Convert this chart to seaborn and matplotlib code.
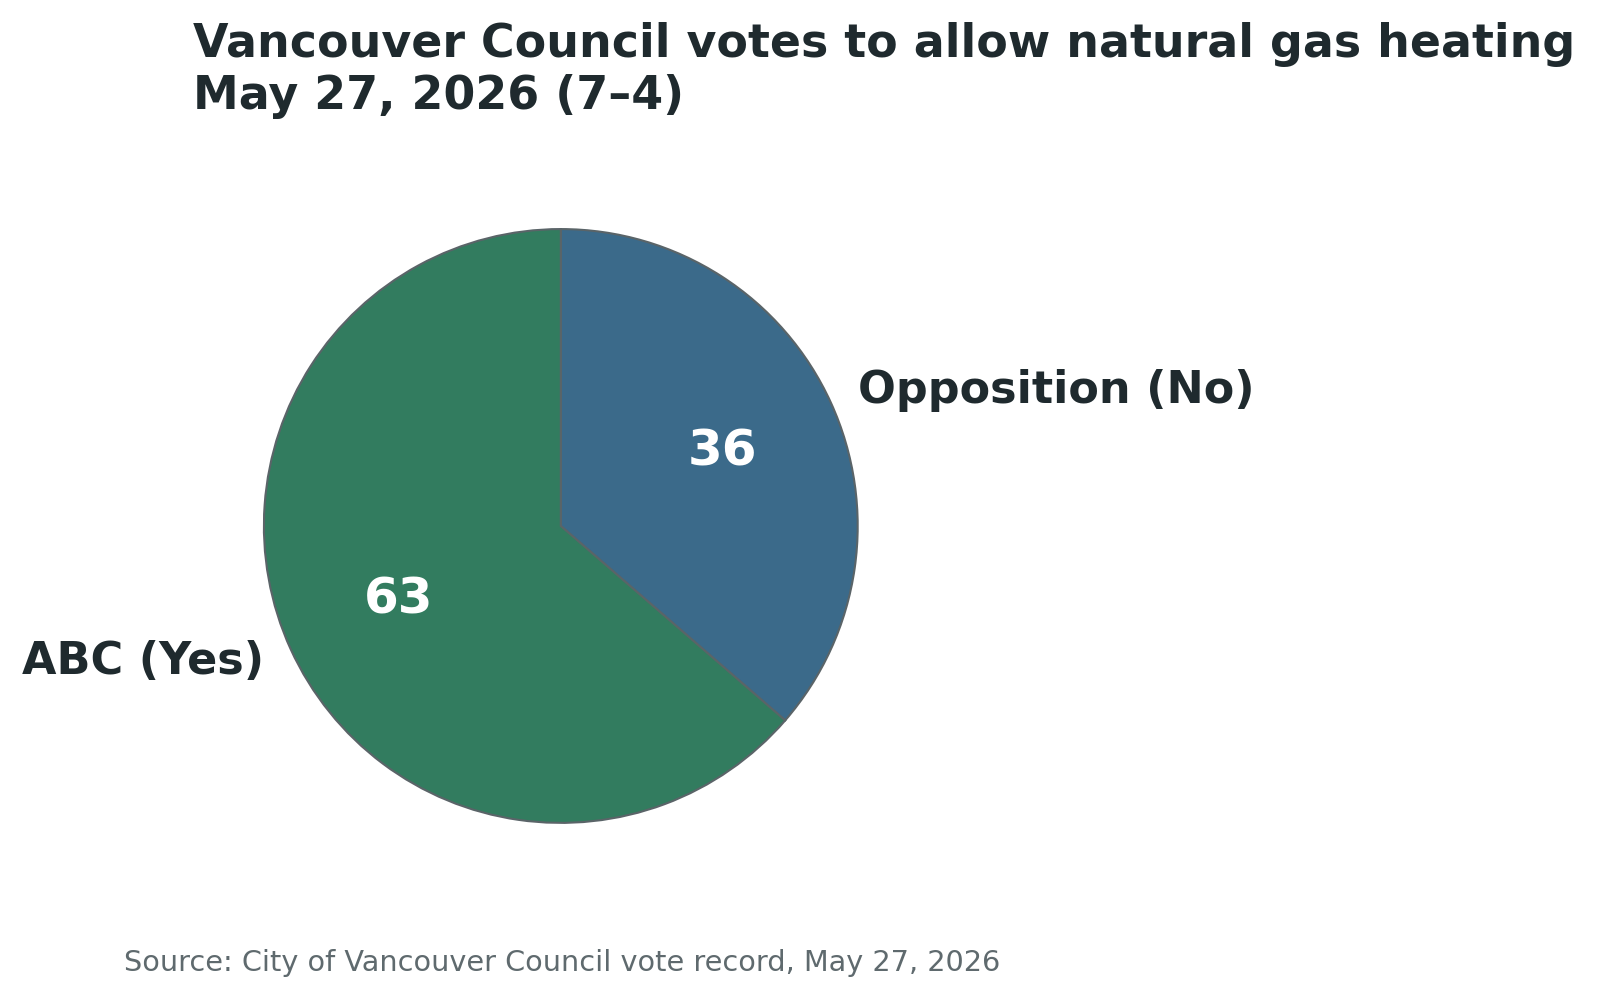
import matplotlib
matplotlib.use("Agg")
import matplotlib.pyplot as plt
import seaborn as sns

# data
parties = ["Opposition (No)", "ABC (Yes)"]
votes = [4, 7]
colors = ["#3b6a8a", "#327c5f"]

title = "Vancouver Council votes to allow natural gas heating\nMay 27, 2026 (7\u20134)"
source = "Source: City of Vancouver Council vote record, May 27, 2026"

sns.set_theme(style="white")
plt.rcParams['font.family'] = ['DejaVu Sans']

fig = plt.figure(figsize=(16, 9.99), dpi=100)
ax = fig.add_axes([-0.023, 0.102, 0.747, 0.743])

wedges, texts, autotexts = ax.pie(
    votes,
    labels=parties,
    colors=colors,
    startangle=90,
    counterclock=False,
    autopct=lambda p: f"{int(p)}",
    pctdistance=0.6,
    labeldistance=1.1,
    wedgeprops=dict(edgecolor="#5a6468", linewidth=1.5),
)
for t in texts:
    t.set_fontsize(32)
    t.set_fontweight("bold")
    t.set_color("#1f2a2e")
for t in autotexts:
    t.set_fontsize(36)
    t.set_fontweight("bold")
    t.set_color("white")
ax.set_aspect("equal")

fig.text(0.1205, 0.978, title, fontsize=33, fontweight="bold",
         color="#1f2a2e", ha="left", va="top", linespacing=1.2)
fig.text(0.0775, 0.028, source, fontsize=20.7, color="#5f6a6e",
         ha="left", va="baseline")

fig.savefig("out.png", dpi=100)
